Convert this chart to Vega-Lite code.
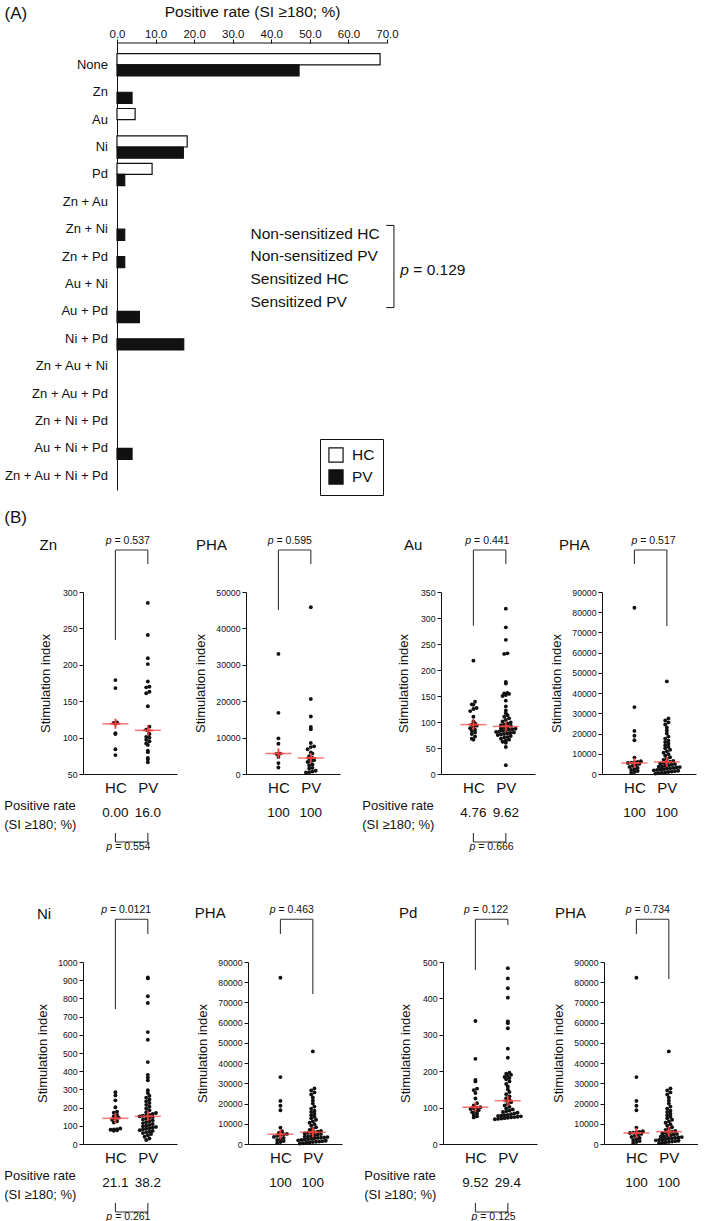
{
"$schema": "https://vega.github.io/schema/vega-lite/v6.json",
"background": "white",
"padding": {"left": 3, "top": 4, "right": 0, "bottom": 0},
"config": {
  "font": "Liberation Sans",
  "view": {"stroke": null},
  "axis": {"grid": false, "labelOverlap": false, "domainColor": "#111", "tickColor": "#111", "labelColor": "#111", "titleColor": "#111", "titleFontWeight": "normal", "labelFont": "Liberation Sans", "titleFont": "Liberation Sans"},
  "text": {"color": "#111", "font": "Liberation Sans"},
  "title": {"font": "Liberation Sans", "fontWeight": "normal", "color": "#111"},
  "legend": {"labelFont": "Liberation Sans", "labelColor": "#111"}
},
"datasets": {
"rates": [
{"combo":"None","grp":"HC","rate":68.2},{"combo":"None","grp":"PV","rate":47.2},
{"combo":"Zn","grp":"HC","rate":0},{"combo":"Zn","grp":"PV","rate":3.9},
{"combo":"Au","grp":"HC","rate":4.7},{"combo":"Au","grp":"PV","rate":0},
{"combo":"Ni","grp":"HC","rate":18.2},{"combo":"Ni","grp":"PV","rate":17.2},
{"combo":"Pd","grp":"HC","rate":9.1},{"combo":"Pd","grp":"PV","rate":2.0},
{"combo":"Zn + Au","grp":"HC","rate":0},{"combo":"Zn + Au","grp":"PV","rate":0},
{"combo":"Zn + Ni","grp":"HC","rate":0},{"combo":"Zn + Ni","grp":"PV","rate":2.0},
{"combo":"Zn + Pd","grp":"HC","rate":0},{"combo":"Zn + Pd","grp":"PV","rate":2.0},
{"combo":"Au + Ni","grp":"HC","rate":0},{"combo":"Au + Ni","grp":"PV","rate":0},
{"combo":"Au + Pd","grp":"HC","rate":0},{"combo":"Au + Pd","grp":"PV","rate":5.8},
{"combo":"Ni + Pd","grp":"HC","rate":0},{"combo":"Ni + Pd","grp":"PV","rate":17.3},
{"combo":"Zn + Au + Ni","grp":"HC","rate":0},{"combo":"Zn + Au + Ni","grp":"PV","rate":0},
{"combo":"Zn + Au + Pd","grp":"HC","rate":0},{"combo":"Zn + Au + Pd","grp":"PV","rate":0},
{"combo":"Zn + Ni + Pd","grp":"HC","rate":0},{"combo":"Zn + Ni + Pd","grp":"PV","rate":0},
{"combo":"Au + Ni + Pd","grp":"HC","rate":0},{"combo":"Au + Ni + Pd","grp":"PV","rate":3.9},
{"combo":"Zn + Au + Ni + Pd","grp":"HC","rate":0},{"combo":"Zn + Au + Ni + Pd","grp":"PV","rate":0}
],
"si": [
{"p":"zn","g":"HC","v":179},{"p":"zn","g":"HC","v":168},{"p":"zn","g":"HC","v":121},{"p":"zn","g":"HC","v":120},{"p":"zn","g":"HC","v":119},{"p":"zn","g":"HC","v":106},{"p":"zn","g":"HC","v":105},{"p":"zn","g":"HC","v":84},{"p":"zn","g":"HC","v":76},
{"p":"zn","g":"PV","v":285},{"p":"zn","g":"PV","v":241},{"p":"zn","g":"PV","v":209},{"p":"zn","g":"PV","v":201},{"p":"zn","g":"PV","v":177},{"p":"zn","g":"PV","v":170},{"p":"zn","g":"PV","v":169},{"p":"zn","g":"PV","v":163},{"p":"zn","g":"PV","v":161},{"p":"zn","g":"PV","v":143},{"p":"zn","g":"PV","v":115},{"p":"zn","g":"PV","v":111},{"p":"zn","g":"PV","v":110},{"p":"zn","g":"PV","v":105},{"p":"zn","g":"PV","v":101},{"p":"zn","g":"PV","v":100},{"p":"zn","g":"PV","v":97},{"p":"zn","g":"PV","v":95},{"p":"zn","g":"PV","v":92},{"p":"zn","g":"PV","v":90},{"p":"zn","g":"PV","v":82},{"p":"zn","g":"PV","v":80},{"p":"zn","g":"PV","v":72},{"p":"zn","g":"PV","v":70},{"p":"zn","g":"PV","v":66},
{"p":"phz","g":"HC","v":33000},{"p":"phz","g":"HC","v":16800},{"p":"phz","g":"HC","v":9800},{"p":"phz","g":"HC","v":8300},{"p":"phz","g":"HC","v":5600},{"p":"phz","g":"HC","v":5500},{"p":"phz","g":"HC","v":4700},{"p":"phz","g":"HC","v":3000},{"p":"phz","g":"HC","v":1800},
{"p":"phz","g":"PV","v":45800},{"p":"phz","g":"PV","v":20600},{"p":"phz","g":"PV","v":15800},{"p":"phz","g":"PV","v":12900},{"p":"phz","g":"PV","v":12300},{"p":"phz","g":"PV","v":8500},{"p":"phz","g":"PV","v":7600},{"p":"phz","g":"PV","v":7400},{"p":"phz","g":"PV","v":6800},{"p":"phz","g":"PV","v":5900},{"p":"phz","g":"PV","v":5600},{"p":"phz","g":"PV","v":4900},{"p":"phz","g":"PV","v":4400},{"p":"phz","g":"PV","v":4200},{"p":"phz","g":"PV","v":3800},{"p":"phz","g":"PV","v":3500},{"p":"phz","g":"PV","v":3300},{"p":"phz","g":"PV","v":2600},{"p":"phz","g":"PV","v":2400},{"p":"phz","g":"PV","v":1700},{"p":"phz","g":"PV","v":1500},{"p":"phz","g":"PV","v":900},{"p":"phz","g":"PV","v":700},{"p":"phz","g":"PV","v":500},{"p":"phz","g":"PV","v":400},
{"p":"au","g":"HC","v":218},{"p":"au","g":"HC","v":139},{"p":"au","g":"HC","v":134},{"p":"au","g":"HC","v":133},{"p":"au","g":"HC","v":127},{"p":"au","g":"HC","v":125},{"p":"au","g":"HC","v":121},{"p":"au","g":"HC","v":110},{"p":"au","g":"HC","v":101},{"p":"au","g":"HC","v":97},{"p":"au","g":"HC","v":95},{"p":"au","g":"HC","v":93},{"p":"au","g":"HC","v":91},{"p":"au","g":"HC","v":88},{"p":"au","g":"HC","v":85},{"p":"au","g":"HC","v":83},{"p":"au","g":"HC","v":80},{"p":"au","g":"HC","v":77},{"p":"au","g":"HC","v":72},{"p":"au","g":"HC","v":68},{"p":"au","g":"HC","v":66},
{"p":"au","g":"PV","v":318},{"p":"au","g":"PV","v":282},{"p":"au","g":"PV","v":258},{"p":"au","g":"PV","v":232},{"p":"au","g":"PV","v":231},{"p":"au","g":"PV","v":177},{"p":"au","g":"PV","v":174},{"p":"au","g":"PV","v":156},{"p":"au","g":"PV","v":155},{"p":"au","g":"PV","v":154},{"p":"au","g":"PV","v":152},{"p":"au","g":"PV","v":150},{"p":"au","g":"PV","v":141},{"p":"au","g":"PV","v":130},{"p":"au","g":"PV","v":122},{"p":"au","g":"PV","v":117},{"p":"au","g":"PV","v":113},{"p":"au","g":"PV","v":110},{"p":"au","g":"PV","v":107},{"p":"au","g":"PV","v":104},{"p":"au","g":"PV","v":101},{"p":"au","g":"PV","v":99},{"p":"au","g":"PV","v":97},{"p":"au","g":"PV","v":95},{"p":"au","g":"PV","v":94},{"p":"au","g":"PV","v":93},{"p":"au","g":"PV","v":90},{"p":"au","g":"PV","v":89},{"p":"au","g":"PV","v":88},{"p":"au","g":"PV","v":87},{"p":"au","g":"PV","v":86},{"p":"au","g":"PV","v":85},{"p":"au","g":"PV","v":84},{"p":"au","g":"PV","v":83},{"p":"au","g":"PV","v":82},{"p":"au","g":"PV","v":81},{"p":"au","g":"PV","v":80},{"p":"au","g":"PV","v":79},{"p":"au","g":"PV","v":78},{"p":"au","g":"PV","v":77},{"p":"au","g":"PV","v":76},{"p":"au","g":"PV","v":75},{"p":"au","g":"PV","v":73},{"p":"au","g":"PV","v":71},{"p":"au","g":"PV","v":70},{"p":"au","g":"PV","v":68},{"p":"au","g":"PV","v":66},{"p":"au","g":"PV","v":64},{"p":"au","g":"PV","v":62},{"p":"au","g":"PV","v":60},{"p":"au","g":"PV","v":52},{"p":"au","g":"PV","v":17},
{"p":"pha","g":"HC","v":82200},{"p":"pha","g":"HC","v":33100},{"p":"pha","g":"HC","v":21300},{"p":"pha","g":"HC","v":18900},{"p":"pha","g":"HC","v":16700},{"p":"pha","g":"HC","v":8100},{"p":"pha","g":"HC","v":6300},{"p":"pha","g":"HC","v":6000},{"p":"pha","g":"HC","v":5800},{"p":"pha","g":"HC","v":5600},{"p":"pha","g":"HC","v":5450},{"p":"pha","g":"HC","v":5000},{"p":"pha","g":"HC","v":4500},{"p":"pha","g":"HC","v":4000},{"p":"pha","g":"HC","v":3500},{"p":"pha","g":"HC","v":3000},{"p":"pha","g":"HC","v":2500},{"p":"pha","g":"HC","v":2000},{"p":"pha","g":"HC","v":1500},{"p":"pha","g":"HC","v":1000},{"p":"pha","g":"HC","v":500},
{"p":"pha","g":"PV","v":45800},{"p":"pha","g":"PV","v":27500},{"p":"pha","g":"PV","v":26500},{"p":"pha","g":"PV","v":25500},{"p":"pha","g":"PV","v":24500},{"p":"pha","g":"PV","v":23000},{"p":"pha","g":"PV","v":21500},{"p":"pha","g":"PV","v":20000},{"p":"pha","g":"PV","v":18500},{"p":"pha","g":"PV","v":17500},{"p":"pha","g":"PV","v":16500},{"p":"pha","g":"PV","v":15800},{"p":"pha","g":"PV","v":15000},{"p":"pha","g":"PV","v":14200},{"p":"pha","g":"PV","v":13500},{"p":"pha","g":"PV","v":12700},{"p":"pha","g":"PV","v":12000},{"p":"pha","g":"PV","v":11200},{"p":"pha","g":"PV","v":10500},{"p":"pha","g":"PV","v":9800},{"p":"pha","g":"PV","v":9000},{"p":"pha","g":"PV","v":8300},{"p":"pha","g":"PV","v":7600},{"p":"pha","g":"PV","v":7000},{"p":"pha","g":"PV","v":6500},{"p":"pha","g":"PV","v":6100},{"p":"pha","g":"PV","v":5800},{"p":"pha","g":"PV","v":5500},{"p":"pha","g":"PV","v":5200},{"p":"pha","g":"PV","v":4900},{"p":"pha","g":"PV","v":4600},{"p":"pha","g":"PV","v":4300},{"p":"pha","g":"PV","v":4000},{"p":"pha","g":"PV","v":3800},{"p":"pha","g":"PV","v":3600},{"p":"pha","g":"PV","v":3400},{"p":"pha","g":"PV","v":3200},{"p":"pha","g":"PV","v":3000},{"p":"pha","g":"PV","v":2800},{"p":"pha","g":"PV","v":2600},{"p":"pha","g":"PV","v":2400},{"p":"pha","g":"PV","v":2200},{"p":"pha","g":"PV","v":2000},{"p":"pha","g":"PV","v":1800},{"p":"pha","g":"PV","v":1600},{"p":"pha","g":"PV","v":1400},{"p":"pha","g":"PV","v":1200},{"p":"pha","g":"PV","v":1000},{"p":"pha","g":"PV","v":800},{"p":"pha","g":"PV","v":600},{"p":"pha","g":"PV","v":400},{"p":"pha","g":"PV","v":200},
{"p":"ni","g":"HC","v":285},{"p":"ni","g":"HC","v":267},{"p":"ni","g":"HC","v":240},{"p":"ni","g":"HC","v":202},{"p":"ni","g":"HC","v":178},{"p":"ni","g":"HC","v":172},{"p":"ni","g":"HC","v":160},{"p":"ni","g":"HC","v":152},{"p":"ni","g":"HC","v":145},{"p":"ni","g":"HC","v":141},{"p":"ni","g":"HC","v":133},{"p":"ni","g":"HC","v":125},{"p":"ni","g":"HC","v":118},{"p":"ni","g":"HC","v":85},{"p":"ni","g":"HC","v":82},{"p":"ni","g":"HC","v":80},{"p":"ni","g":"HC","v":78},{"p":"ni","g":"HC","v":75},{"p":"ni","g":"HC","v":73},
{"p":"ni","g":"PV","v":915},{"p":"ni","g":"PV","v":910},{"p":"ni","g":"PV","v":812},{"p":"ni","g":"PV","v":775},{"p":"ni","g":"PV","v":615},{"p":"ni","g":"PV","v":573},{"p":"ni","g":"PV","v":450},{"p":"ni","g":"PV","v":380},{"p":"ni","g":"PV","v":365},{"p":"ni","g":"PV","v":350},{"p":"ni","g":"PV","v":295},{"p":"ni","g":"PV","v":280},{"p":"ni","g":"PV","v":265},{"p":"ni","g":"PV","v":255},{"p":"ni","g":"PV","v":245},{"p":"ni","g":"PV","v":235},{"p":"ni","g":"PV","v":225},{"p":"ni","g":"PV","v":215},{"p":"ni","g":"PV","v":205},{"p":"ni","g":"PV","v":195},{"p":"ni","g":"PV","v":185},{"p":"ni","g":"PV","v":175},{"p":"ni","g":"PV","v":170},{"p":"ni","g":"PV","v":165},{"p":"ni","g":"PV","v":160},{"p":"ni","g":"PV","v":157},{"p":"ni","g":"PV","v":155},{"p":"ni","g":"PV","v":152},{"p":"ni","g":"PV","v":148},{"p":"ni","g":"PV","v":145},{"p":"ni","g":"PV","v":140},{"p":"ni","g":"PV","v":135},{"p":"ni","g":"PV","v":130},{"p":"ni","g":"PV","v":125},{"p":"ni","g":"PV","v":120},{"p":"ni","g":"PV","v":115},{"p":"ni","g":"PV","v":110},{"p":"ni","g":"PV","v":105},{"p":"ni","g":"PV","v":100},{"p":"ni","g":"PV","v":97},{"p":"ni","g":"PV","v":94},{"p":"ni","g":"PV","v":90},{"p":"ni","g":"PV","v":87},{"p":"ni","g":"PV","v":84},{"p":"ni","g":"PV","v":80},{"p":"ni","g":"PV","v":76},{"p":"ni","g":"PV","v":72},{"p":"ni","g":"PV","v":68},{"p":"ni","g":"PV","v":64},{"p":"ni","g":"PV","v":60},{"p":"ni","g":"PV","v":55},{"p":"ni","g":"PV","v":48},{"p":"ni","g":"PV","v":40},{"p":"ni","g":"PV","v":30},{"p":"ni","g":"PV","v":22},
{"p":"phn","g":"HC","v":82200},{"p":"phn","g":"HC","v":33100},{"p":"phn","g":"HC","v":21300},{"p":"phn","g":"HC","v":18900},{"p":"phn","g":"HC","v":16700},{"p":"phn","g":"HC","v":8100},{"p":"phn","g":"HC","v":6300},{"p":"phn","g":"HC","v":5500},{"p":"phn","g":"HC","v":5000},{"p":"phn","g":"HC","v":4800},{"p":"phn","g":"HC","v":4500},{"p":"phn","g":"HC","v":4000},{"p":"phn","g":"HC","v":3500},{"p":"phn","g":"HC","v":3000},{"p":"phn","g":"HC","v":2500},{"p":"phn","g":"HC","v":2000},{"p":"phn","g":"HC","v":1500},{"p":"phn","g":"HC","v":1000},{"p":"phn","g":"HC","v":500},
{"p":"phn","g":"PV","v":45800},{"p":"phn","g":"PV","v":27500},{"p":"phn","g":"PV","v":26500},{"p":"phn","g":"PV","v":25500},{"p":"phn","g":"PV","v":24500},{"p":"phn","g":"PV","v":23000},{"p":"phn","g":"PV","v":21500},{"p":"phn","g":"PV","v":20000},{"p":"phn","g":"PV","v":18500},{"p":"phn","g":"PV","v":17500},{"p":"phn","g":"PV","v":16500},{"p":"phn","g":"PV","v":15800},{"p":"phn","g":"PV","v":15000},{"p":"phn","g":"PV","v":14200},{"p":"phn","g":"PV","v":13500},{"p":"phn","g":"PV","v":12700},{"p":"phn","g":"PV","v":12000},{"p":"phn","g":"PV","v":11200},{"p":"phn","g":"PV","v":10500},{"p":"phn","g":"PV","v":9800},{"p":"phn","g":"PV","v":9000},{"p":"phn","g":"PV","v":8300},{"p":"phn","g":"PV","v":7600},{"p":"phn","g":"PV","v":7000},{"p":"phn","g":"PV","v":6500},{"p":"phn","g":"PV","v":6100},{"p":"phn","g":"PV","v":5900},{"p":"phn","g":"PV","v":5800},{"p":"phn","g":"PV","v":5500},{"p":"phn","g":"PV","v":5200},{"p":"phn","g":"PV","v":4900},{"p":"phn","g":"PV","v":4600},{"p":"phn","g":"PV","v":4300},{"p":"phn","g":"PV","v":4000},{"p":"phn","g":"PV","v":3800},{"p":"phn","g":"PV","v":3600},{"p":"phn","g":"PV","v":3400},{"p":"phn","g":"PV","v":3200},{"p":"phn","g":"PV","v":3100},{"p":"phn","g":"PV","v":3000},{"p":"phn","g":"PV","v":2800},{"p":"phn","g":"PV","v":2600},{"p":"phn","g":"PV","v":2400},{"p":"phn","g":"PV","v":2200},{"p":"phn","g":"PV","v":2000},{"p":"phn","g":"PV","v":1800},{"p":"phn","g":"PV","v":1600},{"p":"phn","g":"PV","v":1400},{"p":"phn","g":"PV","v":1200},{"p":"phn","g":"PV","v":1100},{"p":"phn","g":"PV","v":1000},{"p":"phn","g":"PV","v":800},{"p":"phn","g":"PV","v":600},{"p":"phn","g":"PV","v":400},{"p":"phn","g":"PV","v":200},
{"p":"pd","g":"HC","v":338},{"p":"pd","g":"HC","v":234},{"p":"pd","g":"HC","v":176},{"p":"pd","g":"HC","v":172},{"p":"pd","g":"HC","v":152},{"p":"pd","g":"HC","v":148},{"p":"pd","g":"HC","v":140},{"p":"pd","g":"HC","v":125},{"p":"pd","g":"HC","v":112},{"p":"pd","g":"HC","v":106},{"p":"pd","g":"HC","v":101},{"p":"pd","g":"HC","v":100},{"p":"pd","g":"HC","v":98},{"p":"pd","g":"HC","v":96},{"p":"pd","g":"HC","v":93},{"p":"pd","g":"HC","v":90},{"p":"pd","g":"HC","v":87},{"p":"pd","g":"HC","v":84},{"p":"pd","g":"HC","v":80},{"p":"pd","g":"HC","v":76},{"p":"pd","g":"HC","v":73},
{"p":"pd","g":"PV","v":483},{"p":"pd","g":"PV","v":455},{"p":"pd","g":"PV","v":428},{"p":"pd","g":"PV","v":402},{"p":"pd","g":"PV","v":337},{"p":"pd","g":"PV","v":332},{"p":"pd","g":"PV","v":318},{"p":"pd","g":"PV","v":262},{"p":"pd","g":"PV","v":237},{"p":"pd","g":"PV","v":196},{"p":"pd","g":"PV","v":193},{"p":"pd","g":"PV","v":190},{"p":"pd","g":"PV","v":187},{"p":"pd","g":"PV","v":184},{"p":"pd","g":"PV","v":181},{"p":"pd","g":"PV","v":178},{"p":"pd","g":"PV","v":172},{"p":"pd","g":"PV","v":165},{"p":"pd","g":"PV","v":158},{"p":"pd","g":"PV","v":150},{"p":"pd","g":"PV","v":143},{"p":"pd","g":"PV","v":137},{"p":"pd","g":"PV","v":131},{"p":"pd","g":"PV","v":126},{"p":"pd","g":"PV","v":122},{"p":"pd","g":"PV","v":119},{"p":"pd","g":"PV","v":115},{"p":"pd","g":"PV","v":110},{"p":"pd","g":"PV","v":106},{"p":"pd","g":"PV","v":102},{"p":"pd","g":"PV","v":98},{"p":"pd","g":"PV","v":95},{"p":"pd","g":"PV","v":92},{"p":"pd","g":"PV","v":90},{"p":"pd","g":"PV","v":88},{"p":"pd","g":"PV","v":86},{"p":"pd","g":"PV","v":84},{"p":"pd","g":"PV","v":82},{"p":"pd","g":"PV","v":80},{"p":"pd","g":"PV","v":79},{"p":"pd","g":"PV","v":78},{"p":"pd","g":"PV","v":77},{"p":"pd","g":"PV","v":76},{"p":"pd","g":"PV","v":75},{"p":"pd","g":"PV","v":74},{"p":"pd","g":"PV","v":73},{"p":"pd","g":"PV","v":72},{"p":"pd","g":"PV","v":71},{"p":"pd","g":"PV","v":70},{"p":"pd","g":"PV","v":69},{"p":"pd","g":"PV","v":68},
{"p":"php","g":"HC","v":82200},{"p":"php","g":"HC","v":33100},{"p":"php","g":"HC","v":21300},{"p":"php","g":"HC","v":18900},{"p":"php","g":"HC","v":16700},{"p":"php","g":"HC","v":8100},{"p":"php","g":"HC","v":6300},{"p":"php","g":"HC","v":6000},{"p":"php","g":"HC","v":5800},{"p":"php","g":"HC","v":5600},{"p":"php","g":"HC","v":5450},{"p":"php","g":"HC","v":5000},{"p":"php","g":"HC","v":4500},{"p":"php","g":"HC","v":4000},{"p":"php","g":"HC","v":3500},{"p":"php","g":"HC","v":3000},{"p":"php","g":"HC","v":2500},{"p":"php","g":"HC","v":2000},{"p":"php","g":"HC","v":1500},{"p":"php","g":"HC","v":1000},{"p":"php","g":"HC","v":500},
{"p":"php","g":"PV","v":45800},{"p":"php","g":"PV","v":27500},{"p":"php","g":"PV","v":26500},{"p":"php","g":"PV","v":25500},{"p":"php","g":"PV","v":24500},{"p":"php","g":"PV","v":23000},{"p":"php","g":"PV","v":21500},{"p":"php","g":"PV","v":20000},{"p":"php","g":"PV","v":18500},{"p":"php","g":"PV","v":17500},{"p":"php","g":"PV","v":16500},{"p":"php","g":"PV","v":15800},{"p":"php","g":"PV","v":15000},{"p":"php","g":"PV","v":14200},{"p":"php","g":"PV","v":13500},{"p":"php","g":"PV","v":12700},{"p":"php","g":"PV","v":12000},{"p":"php","g":"PV","v":11200},{"p":"php","g":"PV","v":10500},{"p":"php","g":"PV","v":9800},{"p":"php","g":"PV","v":9000},{"p":"php","g":"PV","v":8300},{"p":"php","g":"PV","v":7600},{"p":"php","g":"PV","v":7000},{"p":"php","g":"PV","v":6500},{"p":"php","g":"PV","v":6100},{"p":"php","g":"PV","v":5800},{"p":"php","g":"PV","v":5500},{"p":"php","g":"PV","v":5200},{"p":"php","g":"PV","v":4900},{"p":"php","g":"PV","v":4600},{"p":"php","g":"PV","v":4300},{"p":"php","g":"PV","v":4000},{"p":"php","g":"PV","v":3800},{"p":"php","g":"PV","v":3600},{"p":"php","g":"PV","v":3400},{"p":"php","g":"PV","v":3200},{"p":"php","g":"PV","v":3000},{"p":"php","g":"PV","v":2800},{"p":"php","g":"PV","v":2600},{"p":"php","g":"PV","v":2400},{"p":"php","g":"PV","v":2200},{"p":"php","g":"PV","v":2000},{"p":"php","g":"PV","v":1800},{"p":"php","g":"PV","v":1600},{"p":"php","g":"PV","v":1400},{"p":"php","g":"PV","v":1200},{"p":"php","g":"PV","v":1000},{"p":"php","g":"PV","v":800},{"p":"php","g":"PV","v":600},{"p":"php","g":"PV","v":400}
]
},
"concat": [
{
 "width": 304, "height": 447,
 "layer": [
  {
   "data": {"name": "rates"},
   "transform": [{"filter": "datum.rate > 0"}],
   "mark": {"type": "bar", "stroke": "#111", "strokeWidth": 1.2},
   "encoding": {
    "y": {"field": "combo", "type": "nominal", "sort": null,
      "scale": {"domain": ["None","Zn","Au","Ni","Pd","Zn + Au","Zn + Ni","Zn + Pd","Au + Ni","Au + Pd","Ni + Pd","Zn + Au + Ni","Zn + Au + Pd","Zn + Ni + Pd","Au + Ni + Pd","Zn + Au + Ni + Pd"], "paddingInner": 0.187, "paddingOuter": 0.252, "align": 0.775},
      "axis": {"title": "(A)", "offset": -34, "titleAngle": 0, "titleX": -113, "titleY": -30, "titleAlign": "left", "titleBaseline": "middle", "titleFontSize": 17, "labelFontSize": 13, "ticks": false, "labelPadding": 9.5}},
    "yOffset": {"field": "grp", "type": "nominal", "scale": {"domain": ["HC","PV"], "paddingInner": 0, "paddingOuter": 0}},
    "x": {"field": "rate", "type": "quantitative", "scale": {"domain": [-8.815, 70], "nice": false, "zero": false},
      "axis": {"orient": "top", "domain": false, "title": "Positive rate (SI ≥180; %)", "titleX": 169, "values": [0,10,20,30,40,50,60,70], "tickCount": 20, "format": ".1f", "labelFontSize": 11.5, "titleFontSize": 15.5, "tickSize": 4, "labelPadding": 0, "titlePadding": 9, "labelFlush": false}},
    "fill": {"field": "grp", "type": "nominal", "scale": {"domain": ["HC","PV"], "range": ["white","#111"]},
      "legend": {"title": null, "orient": "none", "legendX": 237, "legendY": 396, "strokeColor": "#111", "padding": 8, "symbolType": "square", "symbolSize": 200, "symbolStrokeColor": "#111", "symbolStrokeWidth": 1.2, "labelFontSize": 15.5, "rowPadding": 2, "labelOffset": 8}}
   }
  },
  {
   "data": {"values": [{"combo": "None", "x": 0, "x2": 70}]},
   "mark": {"type": "rule", "color": "#111", "strokeWidth": 1},
   "encoding": {"y": {"field": "combo", "type": "nominal", "bandPosition": -0.48}, "x": {"field": "x", "type": "quantitative"}, "x2": {"field": "x2"}}
  },
  {
   "data": {"values": [{"combo": "Zn + Ni", "x": 34.6, "t": "Non-sensitized HC|Non-sensitized PV|Sensitized HC|Sensitized PV"}]},
   "mark": {"type": "text", "align": "left", "baseline": "middle", "fontSize": 15.5, "lineBreak": "|", "lineHeight": 22.8},
   "encoding": {"y": {"field": "combo", "type": "nominal", "bandPosition": 0.7}, "x": {"field": "x", "type": "quantitative"}, "text": {"field": "t"}}
  },
  {
   "data": {"values": [{"x": 71.8, "x2": 71.8, "c1": "Zn + Ni", "c2": "Au + Pd"}, {"x": 69.8, "x2": 71.8, "c1": "Zn + Ni", "c2": "Zn + Ni"}, {"x": 69.8, "x2": 71.8, "c1": "Au + Pd", "c2": "Au + Pd"}]},
   "mark": {"type": "rule", "color": "#111", "strokeWidth": 1},
   "encoding": {"y": {"field": "c1", "type": "nominal", "bandPosition": 0.33}, "y2": {"field": "c2", "bandPosition": 0.33}, "x": {"field": "x", "type": "quantitative"}, "x2": {"field": "x2"}}
  },
  {
   "data": {"values": [{"combo": "Zn + Pd", "x": 73.45, "t": "= 0.129"}]},
   "layer": [
    {"mark": {"type": "text", "align": "left", "baseline": "middle", "fontSize": 15.5, "fontStyle": "italic", "dy": 2}, "encoding": {"y": {"field": "combo", "type": "nominal", "bandPosition": 1}, "x": {"field": "x", "type": "quantitative"}, "text": {"value": "p"}}},
    {"mark": {"type": "text", "align": "left", "baseline": "middle", "fontSize": 15.5, "dx": 13, "dy": 2}, "encoding": {"y": {"field": "combo", "type": "nominal", "bandPosition": 1}, "x": {"field": "x", "type": "quantitative"}, "text": {"field": "t"}}}
   ]
  }
 ]
},
{
 "title": {"text": "(B)", "anchor": "start", "frame": "bounds", "fontSize": 17, "offset": 9},
 "spacing": 52,
 "vconcat": [
  {"spacing": 22, "hconcat": [
   {"spacing": 17, "hconcat": [
    {"width": 94, "height": 182, "layer": [
     {"data": {"name": "si"}, "transform": [{"filter": "datum.p === 'zn'"}, {"bin": {"step": 4.8}, "field": "v", "as": "vb"}, {"window": [{"op": "row_number", "as": "r"}], "groupby": ["g", "vb"], "sort": [{"field": "v"}]}, {"joinaggregate": [{"op": "count", "as": "n"}], "groupby": ["g", "vb"]}, {"calculate": "(datum.g === 'HC' ? 1 : 2) + (datum.r - (datum.n + 1) / 2) * 0.1", "as": "xp"}],
      "mark": {"type": "circle", "size": 15, "color": "#111", "opacity": 1},
      "encoding": {"x": {"field": "xp", "type": "quantitative", "scale": {"domain": [0, 2.9], "nice": false, "zero": false}, "axis": {"values": [1, 2], "tickCount": 20, "labelExpr": "datum.value === 1 ? 'HC' : 'PV'", "ticks": false, "labelFontSize": 15, "labelPadding": 6, "title": null, "labelFlush": false}},
                   "y": {"field": "v", "type": "quantitative", "scale": {"domain": [50, 300], "nice": false, "zero": false}, "axis": {"title": "Stimulation index", "values": [50,100,150,200,250,300], "tickCount": 20, "format": "d", "labelFontSize": 8.7, "labelFlush": false, "tickSize": 4, "labelPadding": 2, "titleFontSize": 13, "titlePadding": 10}}}},
     {"data": {"name": "si"}, "transform": [{"filter": "datum.p === 'zn'"}, {"aggregate": [{"op": "median", "field": "v", "as": "m"}], "groupby": ["g"]}, {"calculate": "datum.g === 'HC' ? 1 : 2", "as": "gx"}],
      "mark": {"type": "tick", "orient": "horizontal", "color": "#f0403c", "size": 26, "thickness": 1.5},
      "encoding": {"x": {"field": "gx", "type": "quantitative"}, "y": {"field": "m", "type": "quantitative"}}},
     {"data": {"name": "si"}, "transform": [{"filter": "datum.p === 'zn'"}, {"aggregate": [{"op": "mean", "field": "v", "as": "m"}], "groupby": ["g"]}, {"calculate": "datum.g === 'HC' ? 1 : 2", "as": "gx"}],
      "mark": {"type": "point", "shape": "M-1,0L1,0M0,-1L0,1", "filled": false, "color": "#f0403c", "strokeWidth": 1.8, "size": 100, "opacity": 1},
      "encoding": {"x": {"field": "gx", "type": "quantitative"}, "y": {"field": "m", "type": "quantitative"}}},
     {"data": {"values": [
       {"k":"ttl","x":-1.34,"y":364.6,"t":"Zn"},
       {"k":"p","x":0.7,"y":370,"t":"= 0.537"},
       {"k":"p","x":0.72,"y":-50.3,"t":"= 0.554"},
       {"k":"val","x":1,"y":-3.6,"t":"0.00"},
       {"k":"val","x":2,"y":-3.6,"t":"16.0"},
       {"k":"lab","x":-2.43,"y":6,"t":"Positive rate"},
       {"k":"lab","x":-2.43,"y":-20.1,"t":"(SI ≥180; %)"},
       {"k":"br","x":1,"y":234,"x2":1,"y2":357.7},
       {"k":"br","x":1,"y":357.7,"x2":2,"y2":357.7},
       {"k":"br","x":2,"y":357.7,"x2":2,"y2":338.5},
       {"k":"br","x":1,"y":-31,"x2":1,"y2":-43.4},
       {"k":"br","x":1,"y":-43.4,"x2":2,"y2":-43.4},
       {"k":"br","x":2,"y":-43.4,"x2":2,"y2":-31}]},
      "layer": [
       {"transform": [{"filter": "datum.k === 'br'"}], "mark": {"type": "rule", "color": "#333", "strokeWidth": 1.1}, "encoding": {"x": {"field": "x", "type": "quantitative"}, "x2": {"field": "x2"}, "y": {"field": "y", "type": "quantitative"}, "y2": {"field": "y2"}}},
       {"transform": [{"filter": "datum.k === 'ttl'"}], "mark": {"type": "text", "align": "left", "baseline": "middle", "fontSize": 15}, "encoding": {"x": {"field": "x", "type": "quantitative"}, "y": {"field": "y", "type": "quantitative"}, "text": {"field": "t"}}},
       {"transform": [{"filter": "datum.k === 'p'"}], "mark": {"type": "text", "align": "left", "baseline": "middle", "fontSize": 10.5, "fontStyle": "italic"}, "encoding": {"x": {"field": "x", "type": "quantitative"}, "y": {"field": "y", "type": "quantitative"}, "text": {"value": "p"}}},
       {"transform": [{"filter": "datum.k === 'p'"}], "mark": {"type": "text", "align": "left", "baseline": "middle", "fontSize": 10.5, "dx": 8.8}, "encoding": {"x": {"field": "x", "type": "quantitative"}, "y": {"field": "y", "type": "quantitative"}, "text": {"field": "t"}}},
       {"transform": [{"filter": "datum.k === 'val'"}], "mark": {"type": "text", "align": "center", "baseline": "middle", "fontSize": 13.5}, "encoding": {"x": {"field": "x", "type": "quantitative"}, "y": {"field": "y", "type": "quantitative"}, "text": {"field": "t"}}},
       {"transform": [{"filter": "datum.k === 'lab'"}], "mark": {"type": "text", "align": "left", "baseline": "middle", "fontSize": 13}, "encoding": {"x": {"field": "x", "type": "quantitative"}, "y": {"field": "y", "type": "quantitative"}, "text": {"field": "t"}}}
      ]}
    ]},
    {"width": 94, "height": 182, "layer": [
     {"data": {"name": "si"}, "transform": [{"filter": "datum.p === 'phz'"}, {"bin": {"step": 960}, "field": "v", "as": "vb"}, {"window": [{"op": "row_number", "as": "r"}], "groupby": ["g", "vb"], "sort": [{"field": "v"}]}, {"joinaggregate": [{"op": "count", "as": "n"}], "groupby": ["g", "vb"]}, {"calculate": "(datum.g === 'HC' ? 1 : 2) + (datum.r - (datum.n + 1) / 2) * 0.1", "as": "xp"}],
      "mark": {"type": "circle", "size": 15, "color": "#111", "opacity": 1},
      "encoding": {"x": {"field": "xp", "type": "quantitative", "scale": {"domain": [0, 2.9], "nice": false, "zero": false}, "axis": {"values": [1, 2], "tickCount": 20, "labelExpr": "datum.value === 1 ? 'HC' : 'PV'", "ticks": false, "labelFontSize": 15, "labelPadding": 6, "title": null, "labelFlush": false}},
                   "y": {"field": "v", "type": "quantitative", "scale": {"domain": [0, 50000], "nice": false, "zero": false}, "axis": {"title": "Stimulation index", "values": [0,10000,20000,30000,40000,50000], "tickCount": 20, "format": "d", "labelFontSize": 8.7, "labelFlush": false, "tickSize": 4, "labelPadding": 2, "titleFontSize": 13, "titlePadding": 8}}}},
     {"data": {"name": "si"}, "transform": [{"filter": "datum.p === 'phz'"}, {"aggregate": [{"op": "median", "field": "v", "as": "m"}], "groupby": ["g"]}, {"calculate": "datum.g === 'HC' ? 1 : 2", "as": "gx"}],
      "mark": {"type": "tick", "orient": "horizontal", "color": "#f0403c", "size": 26, "thickness": 1.5},
      "encoding": {"x": {"field": "gx", "type": "quantitative"}, "y": {"field": "m", "type": "quantitative"}}},
     {"data": {"name": "si"}, "transform": [{"filter": "datum.p === 'phz'"}, {"aggregate": [{"op": "mean", "field": "v", "as": "m"}], "groupby": ["g"]}, {"calculate": "datum.g === 'HC' ? 1 : 2", "as": "gx"}],
      "mark": {"type": "point", "shape": "M-1,0L1,0M0,-1L0,1", "filled": false, "color": "#f0403c", "strokeWidth": 1.8, "size": 100, "opacity": 1},
      "encoding": {"x": {"field": "gx", "type": "quantitative"}, "y": {"field": "m", "type": "quantitative"}}},
     {"data": {"values": [
       {"k":"ttl","x":-1.54,"y":62910,"t":"PHA"},
       {"k":"p","x":0.67,"y":64010,"t":"= 0.595"},
       {"k":"val","x":1,"y":-10710,"t":"100"},
       {"k":"val","x":2,"y":-10710,"t":"100"},
       {"k":"br","x":1,"y":45050,"x2":1,"y2":61540},
       {"k":"br","x":1,"y":61540,"x2":2,"y2":61540},
       {"k":"br","x":2,"y":61540,"x2":2,"y2":57690}]},
      "layer": [
       {"transform": [{"filter": "datum.k === 'br'"}], "mark": {"type": "rule", "color": "#333", "strokeWidth": 1.1}, "encoding": {"x": {"field": "x", "type": "quantitative"}, "x2": {"field": "x2"}, "y": {"field": "y", "type": "quantitative"}, "y2": {"field": "y2"}}},
       {"transform": [{"filter": "datum.k === 'ttl'"}], "mark": {"type": "text", "align": "left", "baseline": "middle", "fontSize": 15}, "encoding": {"x": {"field": "x", "type": "quantitative"}, "y": {"field": "y", "type": "quantitative"}, "text": {"field": "t"}}},
       {"transform": [{"filter": "datum.k === 'p'"}], "mark": {"type": "text", "align": "left", "baseline": "middle", "fontSize": 10.5, "fontStyle": "italic"}, "encoding": {"x": {"field": "x", "type": "quantitative"}, "y": {"field": "y", "type": "quantitative"}, "text": {"value": "p"}}},
       {"transform": [{"filter": "datum.k === 'p'"}], "mark": {"type": "text", "align": "left", "baseline": "middle", "fontSize": 10.5, "dx": 8.8}, "encoding": {"x": {"field": "x", "type": "quantitative"}, "y": {"field": "y", "type": "quantitative"}, "text": {"field": "t"}}},
       {"transform": [{"filter": "datum.k === 'val'"}], "mark": {"type": "text", "align": "center", "baseline": "middle", "fontSize": 13.5}, "encoding": {"x": {"field": "x", "type": "quantitative"}, "y": {"field": "y", "type": "quantitative"}, "text": {"field": "t"}}}
      ]}
    ]}
   ]},
   {"spacing": 15, "hconcat": [
    {"width": 94, "height": 182, "layer": [
     {"data": {"name": "si"}, "transform": [{"filter": "datum.p === 'au'"}, {"bin": {"step": 6.7}, "field": "v", "as": "vb"}, {"window": [{"op": "row_number", "as": "r"}], "groupby": ["g", "vb"], "sort": [{"field": "v"}]}, {"joinaggregate": [{"op": "count", "as": "n"}], "groupby": ["g", "vb"]}, {"calculate": "(datum.g === 'HC' ? 1 : 2) + (datum.r - (datum.n + 1) / 2) * 0.1", "as": "xp"}],
      "mark": {"type": "circle", "size": 15, "color": "#111", "opacity": 1},
      "encoding": {"x": {"field": "xp", "type": "quantitative", "scale": {"domain": [0, 2.9], "nice": false, "zero": false}, "axis": {"values": [1, 2], "tickCount": 20, "labelExpr": "datum.value === 1 ? 'HC' : 'PV'", "ticks": false, "labelFontSize": 15, "labelPadding": 6, "title": null, "labelFlush": false}},
                   "y": {"field": "v", "type": "quantitative", "scale": {"domain": [0, 350], "nice": false, "zero": false}, "axis": {"title": "Stimulation index", "values": [0,50,100,150,200,250,300,350], "tickCount": 20, "format": "d", "labelFontSize": 8.7, "labelFlush": false, "tickSize": 4, "labelPadding": 2, "titleFontSize": 13, "titlePadding": 10}}}},
     {"data": {"name": "si"}, "transform": [{"filter": "datum.p === 'au'"}, {"aggregate": [{"op": "median", "field": "v", "as": "m"}], "groupby": ["g"]}, {"calculate": "datum.g === 'HC' ? 1 : 2", "as": "gx"}],
      "mark": {"type": "tick", "orient": "horizontal", "color": "#f0403c", "size": 26, "thickness": 1.5},
      "encoding": {"x": {"field": "gx", "type": "quantitative"}, "y": {"field": "m", "type": "quantitative"}}},
     {"data": {"name": "si"}, "transform": [{"filter": "datum.p === 'au'"}, {"aggregate": [{"op": "mean", "field": "v", "as": "m"}], "groupby": ["g"]}, {"calculate": "datum.g === 'HC' ? 1 : 2", "as": "gx"}],
      "mark": {"type": "point", "shape": "M-1,0L1,0M0,-1L0,1", "filled": false, "color": "#f0403c", "strokeWidth": 1.8, "size": 100, "opacity": 1},
      "encoding": {"x": {"field": "gx", "type": "quantitative"}, "y": {"field": "m", "type": "quantitative"}}},
     {"data": {"values": [
       {"k":"ttl","x":-1.14,"y":440.4,"t":"Au"},
       {"k":"p","x":0.75,"y":448,"t":"= 0.441"},
       {"k":"p","x":0.88,"y":-140.4,"t":"= 0.666"},
       {"k":"val","x":1,"y":-75,"t":"4.76"},
       {"k":"val","x":2,"y":-75,"t":"9.62"},
       {"k":"lab","x":-2.43,"y":-61.5,"t":"Positive rate"},
       {"k":"lab","x":-2.43,"y":-98.1,"t":"(SI ≥180; %)"},
       {"k":"br","x":1,"y":285.2,"x2":1,"y2":430.8},
       {"k":"br","x":1,"y":430.8,"x2":2,"y2":430.8},
       {"k":"br","x":2,"y":430.8,"x2":2,"y2":403.8},
       {"k":"br","x":1,"y":-113.5,"x2":1,"y2":-130.8},
       {"k":"br","x":1,"y":-130.8,"x2":2,"y2":-130.8},
       {"k":"br","x":2,"y":-130.8,"x2":2,"y2":-113.5}]},
      "layer": [
       {"transform": [{"filter": "datum.k === 'br'"}], "mark": {"type": "rule", "color": "#333", "strokeWidth": 1.1}, "encoding": {"x": {"field": "x", "type": "quantitative"}, "x2": {"field": "x2"}, "y": {"field": "y", "type": "quantitative"}, "y2": {"field": "y2"}}},
       {"transform": [{"filter": "datum.k === 'ttl'"}], "mark": {"type": "text", "align": "left", "baseline": "middle", "fontSize": 15}, "encoding": {"x": {"field": "x", "type": "quantitative"}, "y": {"field": "y", "type": "quantitative"}, "text": {"field": "t"}}},
       {"transform": [{"filter": "datum.k === 'p'"}], "mark": {"type": "text", "align": "left", "baseline": "middle", "fontSize": 10.5, "fontStyle": "italic"}, "encoding": {"x": {"field": "x", "type": "quantitative"}, "y": {"field": "y", "type": "quantitative"}, "text": {"value": "p"}}},
       {"transform": [{"filter": "datum.k === 'p'"}], "mark": {"type": "text", "align": "left", "baseline": "middle", "fontSize": 10.5, "dx": 8.8}, "encoding": {"x": {"field": "x", "type": "quantitative"}, "y": {"field": "y", "type": "quantitative"}, "text": {"field": "t"}}},
       {"transform": [{"filter": "datum.k === 'val'"}], "mark": {"type": "text", "align": "center", "baseline": "middle", "fontSize": 13.5}, "encoding": {"x": {"field": "x", "type": "quantitative"}, "y": {"field": "y", "type": "quantitative"}, "text": {"field": "t"}}},
       {"transform": [{"filter": "datum.k === 'lab'"}], "mark": {"type": "text", "align": "left", "baseline": "middle", "fontSize": 13}, "encoding": {"x": {"field": "x", "type": "quantitative"}, "y": {"field": "y", "type": "quantitative"}, "text": {"field": "t"}}}
      ]}
    ]},
    {"width": 94, "height": 182, "layer": [
     {"data": {"name": "si"}, "transform": [{"filter": "datum.p === 'pha'"}, {"bin": {"step": 1730}, "field": "v", "as": "vb"}, {"window": [{"op": "row_number", "as": "r"}], "groupby": ["g", "vb"], "sort": [{"field": "v"}]}, {"joinaggregate": [{"op": "count", "as": "n"}], "groupby": ["g", "vb"]}, {"calculate": "(datum.g === 'HC' ? 1 : 2) + (datum.r - (datum.n + 1) / 2) * 0.1", "as": "xp"}],
      "mark": {"type": "circle", "size": 15, "color": "#111", "opacity": 1},
      "encoding": {"x": {"field": "xp", "type": "quantitative", "scale": {"domain": [0, 2.9], "nice": false, "zero": false}, "axis": {"values": [1, 2], "tickCount": 20, "labelExpr": "datum.value === 1 ? 'HC' : 'PV'", "ticks": false, "labelFontSize": 15, "labelPadding": 6, "title": null, "labelFlush": false}},
                   "y": {"field": "v", "type": "quantitative", "scale": {"domain": [0, 90000], "nice": false, "zero": false}, "axis": {"title": "Stimulation index", "values": [0,10000,20000,30000,40000,50000,60000,70000,80000,90000], "tickCount": 20, "format": "d", "labelFontSize": 8.7, "labelFlush": false, "tickSize": 4, "labelPadding": 2, "titleFontSize": 13, "titlePadding": 8}}}},
     {"data": {"name": "si"}, "transform": [{"filter": "datum.p === 'pha'"}, {"aggregate": [{"op": "median", "field": "v", "as": "m"}], "groupby": ["g"]}, {"calculate": "datum.g === 'HC' ? 1 : 2", "as": "gx"}],
      "mark": {"type": "tick", "orient": "horizontal", "color": "#f0403c", "size": 26, "thickness": 1.5},
      "encoding": {"x": {"field": "gx", "type": "quantitative"}, "y": {"field": "m", "type": "quantitative"}}},
     {"data": {"name": "si"}, "transform": [{"filter": "datum.p === 'pha'"}, {"aggregate": [{"op": "mean", "field": "v", "as": "m"}], "groupby": ["g"]}, {"calculate": "datum.g === 'HC' ? 1 : 2", "as": "gx"}],
      "mark": {"type": "point", "shape": "M-1,0L1,0M0,-1L0,1", "filled": false, "color": "#f0403c", "strokeWidth": 1.8, "size": 100, "opacity": 1},
      "encoding": {"x": {"field": "gx", "type": "quantitative"}, "y": {"field": "m", "type": "quantitative"}}},
     {"data": {"values": [
       {"k":"ttl","x":-1.33,"y":113240,"t":"PHA"},
       {"k":"p","x":0.91,"y":115220,"t":"= 0.517"},
       {"k":"val","x":1,"y":-19290,"t":"100"},
       {"k":"val","x":2,"y":-19290,"t":"100"},
       {"k":"br","x":1,"y":103850,"x2":1,"y2":110770},
       {"k":"br","x":1,"y":110770,"x2":2,"y2":110770},
       {"k":"br","x":2,"y":110770,"x2":2,"y2":73190}]},
      "layer": [
       {"transform": [{"filter": "datum.k === 'br'"}], "mark": {"type": "rule", "color": "#333", "strokeWidth": 1.1}, "encoding": {"x": {"field": "x", "type": "quantitative"}, "x2": {"field": "x2"}, "y": {"field": "y", "type": "quantitative"}, "y2": {"field": "y2"}}},
       {"transform": [{"filter": "datum.k === 'ttl'"}], "mark": {"type": "text", "align": "left", "baseline": "middle", "fontSize": 15}, "encoding": {"x": {"field": "x", "type": "quantitative"}, "y": {"field": "y", "type": "quantitative"}, "text": {"field": "t"}}},
       {"transform": [{"filter": "datum.k === 'p'"}], "mark": {"type": "text", "align": "left", "baseline": "middle", "fontSize": 10.5, "fontStyle": "italic"}, "encoding": {"x": {"field": "x", "type": "quantitative"}, "y": {"field": "y", "type": "quantitative"}, "text": {"value": "p"}}},
       {"transform": [{"filter": "datum.k === 'p'"}], "mark": {"type": "text", "align": "left", "baseline": "middle", "fontSize": 10.5, "dx": 8.8}, "encoding": {"x": {"field": "x", "type": "quantitative"}, "y": {"field": "y", "type": "quantitative"}, "text": {"field": "t"}}},
       {"transform": [{"filter": "datum.k === 'val'"}], "mark": {"type": "text", "align": "center", "baseline": "middle", "fontSize": 13.5}, "encoding": {"x": {"field": "x", "type": "quantitative"}, "y": {"field": "y", "type": "quantitative"}, "text": {"field": "t"}}}
      ]}
    ]}
   ]}
  ]},
  {"spacing": 22, "hconcat": [
   {"spacing": 17, "hconcat": [
    {"width": 94, "height": 182, "layer": [
     {"data": {"name": "si"}, "transform": [{"filter": "datum.p === 'ni'"}, {"bin": {"step": 19}, "field": "v", "as": "vb"}, {"window": [{"op": "row_number", "as": "r"}], "groupby": ["g", "vb"], "sort": [{"field": "v"}]}, {"joinaggregate": [{"op": "count", "as": "n"}], "groupby": ["g", "vb"]}, {"calculate": "(datum.g === 'HC' ? 1 : 2) + (datum.r - (datum.n + 1) / 2) * 0.1", "as": "xp"}],
      "mark": {"type": "circle", "size": 15, "color": "#111", "opacity": 1},
      "encoding": {"x": {"field": "xp", "type": "quantitative", "scale": {"domain": [0, 2.9], "nice": false, "zero": false}, "axis": {"values": [1, 2], "tickCount": 20, "labelExpr": "datum.value === 1 ? 'HC' : 'PV'", "ticks": false, "labelFontSize": 15, "labelPadding": 6, "title": null, "labelFlush": false}},
                   "y": {"field": "v", "type": "quantitative", "scale": {"domain": [0, 1000], "nice": false, "zero": false}, "axis": {"title": "Stimulation index", "values": [0,100,200,300,400,500,600,700,800,900,1000], "tickCount": 20, "format": "d", "labelFontSize": 8.7, "labelFlush": false, "tickSize": 4, "labelPadding": 2, "titleFontSize": 13, "titlePadding": 8}}}},
     {"data": {"name": "si"}, "transform": [{"filter": "datum.p === 'ni'"}, {"aggregate": [{"op": "median", "field": "v", "as": "m"}], "groupby": ["g"]}, {"calculate": "datum.g === 'HC' ? 1 : 2", "as": "gx"}],
      "mark": {"type": "tick", "orient": "horizontal", "color": "#f0403c", "size": 26, "thickness": 1.5},
      "encoding": {"x": {"field": "gx", "type": "quantitative"}, "y": {"field": "m", "type": "quantitative"}}},
     {"data": {"name": "si"}, "transform": [{"filter": "datum.p === 'ni'"}, {"aggregate": [{"op": "mean", "field": "v", "as": "m"}], "groupby": ["g"]}, {"calculate": "datum.g === 'HC' ? 1 : 2", "as": "gx"}],
      "mark": {"type": "point", "shape": "M-1,0L1,0M0,-1L0,1", "filled": false, "color": "#f0403c", "strokeWidth": 1.8, "size": 100, "opacity": 1},
      "encoding": {"x": {"field": "gx", "type": "quantitative"}, "y": {"field": "m", "type": "quantitative"}}},
     {"data": {"values": [
       {"k":"ttl","x":-1.42,"y":1264,"t":"Ni"},
       {"k":"p","x":0.56,"y":1284,"t":"= 0.0121"},
       {"k":"p","x":0.72,"y":-401,"t":"= 0.261"},
       {"k":"val","x":1,"y":-214,"t":"21.1"},
       {"k":"val","x":2,"y":-214,"t":"38.2"},
       {"k":"lab","x":-2.43,"y":-175.8,"t":"Positive rate"},
       {"k":"lab","x":-2.43,"y":-280.2,"t":"(SI ≥180; %)"},
       {"k":"br","x":1,"y":741.7,"x2":1,"y2":1234.6},
       {"k":"br","x":1,"y":1234.6,"x2":2,"y2":1234.6},
       {"k":"br","x":2,"y":1234.6,"x2":2,"y2":1153.8},
       {"k":"br","x":1,"y":-324.2,"x2":1,"y2":-373.7},
       {"k":"br","x":1,"y":-373.7,"x2":2,"y2":-373.7},
       {"k":"br","x":2,"y":-373.7,"x2":2,"y2":-324.2}]},
      "layer": [
       {"transform": [{"filter": "datum.k === 'br'"}], "mark": {"type": "rule", "color": "#333", "strokeWidth": 1.1}, "encoding": {"x": {"field": "x", "type": "quantitative"}, "x2": {"field": "x2"}, "y": {"field": "y", "type": "quantitative"}, "y2": {"field": "y2"}}},
       {"transform": [{"filter": "datum.k === 'ttl'"}], "mark": {"type": "text", "align": "left", "baseline": "middle", "fontSize": 15}, "encoding": {"x": {"field": "x", "type": "quantitative"}, "y": {"field": "y", "type": "quantitative"}, "text": {"field": "t"}}},
       {"transform": [{"filter": "datum.k === 'p'"}], "mark": {"type": "text", "align": "left", "baseline": "middle", "fontSize": 10.5, "fontStyle": "italic"}, "encoding": {"x": {"field": "x", "type": "quantitative"}, "y": {"field": "y", "type": "quantitative"}, "text": {"value": "p"}}},
       {"transform": [{"filter": "datum.k === 'p'"}], "mark": {"type": "text", "align": "left", "baseline": "middle", "fontSize": 10.5, "dx": 8.8}, "encoding": {"x": {"field": "x", "type": "quantitative"}, "y": {"field": "y", "type": "quantitative"}, "text": {"field": "t"}}},
       {"transform": [{"filter": "datum.k === 'val'"}], "mark": {"type": "text", "align": "center", "baseline": "middle", "fontSize": 13.5}, "encoding": {"x": {"field": "x", "type": "quantitative"}, "y": {"field": "y", "type": "quantitative"}, "text": {"field": "t"}}},
       {"transform": [{"filter": "datum.k === 'lab'"}], "mark": {"type": "text", "align": "left", "baseline": "middle", "fontSize": 13}, "encoding": {"x": {"field": "x", "type": "quantitative"}, "y": {"field": "y", "type": "quantitative"}, "text": {"field": "t"}}}
      ]}
    ]},
    {"width": 94, "height": 182, "layer": [
     {"data": {"name": "si"}, "transform": [{"filter": "datum.p === 'phn'"}, {"bin": {"step": 1730}, "field": "v", "as": "vb"}, {"window": [{"op": "row_number", "as": "r"}], "groupby": ["g", "vb"], "sort": [{"field": "v"}]}, {"joinaggregate": [{"op": "count", "as": "n"}], "groupby": ["g", "vb"]}, {"calculate": "(datum.g === 'HC' ? 1 : 2) + (datum.r - (datum.n + 1) / 2) * 0.1", "as": "xp"}],
      "mark": {"type": "circle", "size": 15, "color": "#111", "opacity": 1},
      "encoding": {"x": {"field": "xp", "type": "quantitative", "scale": {"domain": [0, 2.9], "nice": false, "zero": false}, "axis": {"values": [1, 2], "tickCount": 20, "labelExpr": "datum.value === 1 ? 'HC' : 'PV'", "ticks": false, "labelFontSize": 15, "labelPadding": 6, "title": null, "labelFlush": false}},
                   "y": {"field": "v", "type": "quantitative", "scale": {"domain": [0, 90000], "nice": false, "zero": false}, "axis": {"title": "Stimulation index", "values": [0,10000,20000,30000,40000,50000,60000,70000,80000,90000], "tickCount": 20, "format": "d", "labelFontSize": 8.7, "labelFlush": false, "tickSize": 4, "labelPadding": 2, "titleFontSize": 13, "titlePadding": 8}}}},
     {"data": {"name": "si"}, "transform": [{"filter": "datum.p === 'phn'"}, {"aggregate": [{"op": "median", "field": "v", "as": "m"}], "groupby": ["g"]}, {"calculate": "datum.g === 'HC' ? 1 : 2", "as": "gx"}],
      "mark": {"type": "tick", "orient": "horizontal", "color": "#f0403c", "size": 26, "thickness": 1.5},
      "encoding": {"x": {"field": "gx", "type": "quantitative"}, "y": {"field": "m", "type": "quantitative"}}},
     {"data": {"name": "si"}, "transform": [{"filter": "datum.p === 'phn'"}, {"aggregate": [{"op": "mean", "field": "v", "as": "m"}], "groupby": ["g"]}, {"calculate": "datum.g === 'HC' ? 1 : 2", "as": "gx"}],
      "mark": {"type": "point", "shape": "M-1,0L1,0M0,-1L0,1", "filled": false, "color": "#f0403c", "strokeWidth": 1.8, "size": 100, "opacity": 1},
      "encoding": {"x": {"field": "gx", "type": "quantitative"}, "y": {"field": "m", "type": "quantitative"}}},
     {"data": {"values": [
       {"k":"ttl","x":-1.64,"y":114230,"t":"PHA"},
       {"k":"p","x":0.67,"y":115570,"t":"= 0.463"},
       {"k":"val","x":1,"y":-19290,"t":"100"},
       {"k":"val","x":2,"y":-19290,"t":"100"},
       {"k":"br","x":1,"y":103850,"x2":1,"y2":111115},
       {"k":"br","x":1,"y":111115,"x2":2,"y2":111115},
       {"k":"br","x":2,"y":111115,"x2":2,"y2":74180}]},
      "layer": [
       {"transform": [{"filter": "datum.k === 'br'"}], "mark": {"type": "rule", "color": "#333", "strokeWidth": 1.1}, "encoding": {"x": {"field": "x", "type": "quantitative"}, "x2": {"field": "x2"}, "y": {"field": "y", "type": "quantitative"}, "y2": {"field": "y2"}}},
       {"transform": [{"filter": "datum.k === 'ttl'"}], "mark": {"type": "text", "align": "left", "baseline": "middle", "fontSize": 15}, "encoding": {"x": {"field": "x", "type": "quantitative"}, "y": {"field": "y", "type": "quantitative"}, "text": {"field": "t"}}},
       {"transform": [{"filter": "datum.k === 'p'"}], "mark": {"type": "text", "align": "left", "baseline": "middle", "fontSize": 10.5, "fontStyle": "italic"}, "encoding": {"x": {"field": "x", "type": "quantitative"}, "y": {"field": "y", "type": "quantitative"}, "text": {"value": "p"}}},
       {"transform": [{"filter": "datum.k === 'p'"}], "mark": {"type": "text", "align": "left", "baseline": "middle", "fontSize": 10.5, "dx": 8.8}, "encoding": {"x": {"field": "x", "type": "quantitative"}, "y": {"field": "y", "type": "quantitative"}, "text": {"field": "t"}}},
       {"transform": [{"filter": "datum.k === 'val'"}], "mark": {"type": "text", "align": "center", "baseline": "middle", "fontSize": 13.5}, "encoding": {"x": {"field": "x", "type": "quantitative"}, "y": {"field": "y", "type": "quantitative"}, "text": {"field": "t"}}}
      ]}
    ]}
   ]},
   {"spacing": 15, "hconcat": [
    {"width": 94, "height": 182, "layer": [
     {"data": {"name": "si"}, "transform": [{"filter": "datum.p === 'pd'"}, {"bin": {"step": 9.6}, "field": "v", "as": "vb"}, {"window": [{"op": "row_number", "as": "r"}], "groupby": ["g", "vb"], "sort": [{"field": "v"}]}, {"joinaggregate": [{"op": "count", "as": "n"}], "groupby": ["g", "vb"]}, {"calculate": "(datum.g === 'HC' ? 1 : 2) + (datum.r - (datum.n + 1) / 2) * 0.1", "as": "xp"}],
      "mark": {"type": "circle", "size": 15, "color": "#111", "opacity": 1},
      "encoding": {"x": {"field": "xp", "type": "quantitative", "scale": {"domain": [0, 2.9], "nice": false, "zero": false}, "axis": {"values": [1, 2], "tickCount": 20, "labelExpr": "datum.value === 1 ? 'HC' : 'PV'", "ticks": false, "labelFontSize": 15, "labelPadding": 6, "title": null, "labelFlush": false}},
                   "y": {"field": "v", "type": "quantitative", "scale": {"domain": [0, 500], "nice": false, "zero": false}, "axis": {"title": "Stimulation index", "values": [0,100,200,300,400,500], "tickCount": 20, "format": "d", "labelFontSize": 8.7, "labelFlush": false, "tickSize": 4, "labelPadding": 2, "titleFontSize": 13, "titlePadding": 10}}}},
     {"data": {"name": "si"}, "transform": [{"filter": "datum.p === 'pd'"}, {"aggregate": [{"op": "median", "field": "v", "as": "m"}], "groupby": ["g"]}, {"calculate": "datum.g === 'HC' ? 1 : 2", "as": "gx"}],
      "mark": {"type": "tick", "orient": "horizontal", "color": "#f0403c", "size": 26, "thickness": 1.5},
      "encoding": {"x": {"field": "gx", "type": "quantitative"}, "y": {"field": "m", "type": "quantitative"}}},
     {"data": {"name": "si"}, "transform": [{"filter": "datum.p === 'pd'"}, {"aggregate": [{"op": "mean", "field": "v", "as": "m"}], "groupby": ["g"]}, {"calculate": "datum.g === 'HC' ? 1 : 2", "as": "gx"}],
      "mark": {"type": "point", "shape": "M-1,0L1,0M0,-1L0,1", "filled": false, "color": "#f0403c", "strokeWidth": 1.8, "size": 100, "opacity": 1},
      "encoding": {"x": {"field": "gx", "type": "quantitative"}, "y": {"field": "m", "type": "quantitative"}}},
     {"data": {"values": [
       {"k":"ttl","x":-1.36,"y":634.6,"t":"Pd"},
       {"k":"p","x":0.65,"y":642,"t":"= 0.122"},
       {"k":"p","x":0.88,"y":-200.5,"t":"= 0.125"},
       {"k":"val","x":1,"y":-107,"t":"9.52"},
       {"k":"val","x":2,"y":-107,"t":"29.4"},
       {"k":"lab","x":-2.43,"y":-87.9,"t":"Positive rate"},
       {"k":"lab","x":-2.43,"y":-140.1,"t":"(SI ≥180; %)"},
       {"k":"br","x":1,"y":478,"x2":1,"y2":617.3},
       {"k":"br","x":1,"y":617.3,"x2":2,"y2":617.3},
       {"k":"br","x":2,"y":617.3,"x2":2,"y2":601.6},
       {"k":"br","x":1,"y":-162.1,"x2":1,"y2":-186.8},
       {"k":"br","x":1,"y":-186.8,"x2":2,"y2":-186.8},
       {"k":"br","x":2,"y":-186.8,"x2":2,"y2":-162.1}]},
      "layer": [
       {"transform": [{"filter": "datum.k === 'br'"}], "mark": {"type": "rule", "color": "#333", "strokeWidth": 1.1}, "encoding": {"x": {"field": "x", "type": "quantitative"}, "x2": {"field": "x2"}, "y": {"field": "y", "type": "quantitative"}, "y2": {"field": "y2"}}},
       {"transform": [{"filter": "datum.k === 'ttl'"}], "mark": {"type": "text", "align": "left", "baseline": "middle", "fontSize": 15}, "encoding": {"x": {"field": "x", "type": "quantitative"}, "y": {"field": "y", "type": "quantitative"}, "text": {"field": "t"}}},
       {"transform": [{"filter": "datum.k === 'p'"}], "mark": {"type": "text", "align": "left", "baseline": "middle", "fontSize": 10.5, "fontStyle": "italic"}, "encoding": {"x": {"field": "x", "type": "quantitative"}, "y": {"field": "y", "type": "quantitative"}, "text": {"value": "p"}}},
       {"transform": [{"filter": "datum.k === 'p'"}], "mark": {"type": "text", "align": "left", "baseline": "middle", "fontSize": 10.5, "dx": 8.8}, "encoding": {"x": {"field": "x", "type": "quantitative"}, "y": {"field": "y", "type": "quantitative"}, "text": {"field": "t"}}},
       {"transform": [{"filter": "datum.k === 'val'"}], "mark": {"type": "text", "align": "center", "baseline": "middle", "fontSize": 13.5}, "encoding": {"x": {"field": "x", "type": "quantitative"}, "y": {"field": "y", "type": "quantitative"}, "text": {"field": "t"}}},
       {"transform": [{"filter": "datum.k === 'lab'"}], "mark": {"type": "text", "align": "left", "baseline": "middle", "fontSize": 13}, "encoding": {"x": {"field": "x", "type": "quantitative"}, "y": {"field": "y", "type": "quantitative"}, "text": {"field": "t"}}}
      ]}
    ]},
    {"width": 94, "height": 182, "layer": [
     {"data": {"name": "si"}, "transform": [{"filter": "datum.p === 'php'"}, {"bin": {"step": 1730}, "field": "v", "as": "vb"}, {"window": [{"op": "row_number", "as": "r"}], "groupby": ["g", "vb"], "sort": [{"field": "v"}]}, {"joinaggregate": [{"op": "count", "as": "n"}], "groupby": ["g", "vb"]}, {"calculate": "(datum.g === 'HC' ? 1 : 2) + (datum.r - (datum.n + 1) / 2) * 0.1", "as": "xp"}],
      "mark": {"type": "circle", "size": 15, "color": "#111", "opacity": 1},
      "encoding": {"x": {"field": "xp", "type": "quantitative", "scale": {"domain": [0, 2.9], "nice": false, "zero": false}, "axis": {"values": [1, 2], "tickCount": 20, "labelExpr": "datum.value === 1 ? 'HC' : 'PV'", "ticks": false, "labelFontSize": 15, "labelPadding": 6, "title": null, "labelFlush": false}},
                   "y": {"field": "v", "type": "quantitative", "scale": {"domain": [0, 90000], "nice": false, "zero": false}, "axis": {"title": "Stimulation index", "values": [0,10000,20000,30000,40000,50000,60000,70000,80000,90000], "tickCount": 20, "format": "d", "labelFontSize": 8.7, "labelFlush": false, "tickSize": 4, "labelPadding": 2, "titleFontSize": 13, "titlePadding": 8}}}},
     {"data": {"name": "si"}, "transform": [{"filter": "datum.p === 'php'"}, {"aggregate": [{"op": "median", "field": "v", "as": "m"}], "groupby": ["g"]}, {"calculate": "datum.g === 'HC' ? 1 : 2", "as": "gx"}],
      "mark": {"type": "tick", "orient": "horizontal", "color": "#f0403c", "size": 26, "thickness": 1.5},
      "encoding": {"x": {"field": "gx", "type": "quantitative"}, "y": {"field": "m", "type": "quantitative"}}},
     {"data": {"name": "si"}, "transform": [{"filter": "datum.p === 'php'"}, {"aggregate": [{"op": "mean", "field": "v", "as": "m"}], "groupby": ["g"]}, {"calculate": "datum.g === 'HC' ? 1 : 2", "as": "gx"}],
      "mark": {"type": "point", "shape": "M-1,0L1,0M0,-1L0,1", "filled": false, "color": "#f0403c", "strokeWidth": 1.8, "size": 100, "opacity": 1},
      "encoding": {"x": {"field": "gx", "type": "quantitative"}, "y": {"field": "m", "type": "quantitative"}}},
     {"data": {"values": [
       {"k":"ttl","x":-1.51,"y":114230,"t":"PHA"},
       {"k":"p","x":0.67,"y":115570,"t":"= 0.734"},
       {"k":"val","x":1,"y":-19290,"t":"100"},
       {"k":"val","x":2,"y":-19290,"t":"100"},
       {"k":"br","x":1,"y":103850,"x2":1,"y2":111115},
       {"k":"br","x":1,"y":111115,"x2":2,"y2":111115},
       {"k":"br","x":2,"y":111115,"x2":2,"y2":81590}]},
      "layer": [
       {"transform": [{"filter": "datum.k === 'br'"}], "mark": {"type": "rule", "color": "#333", "strokeWidth": 1.1}, "encoding": {"x": {"field": "x", "type": "quantitative"}, "x2": {"field": "x2"}, "y": {"field": "y", "type": "quantitative"}, "y2": {"field": "y2"}}},
       {"transform": [{"filter": "datum.k === 'ttl'"}], "mark": {"type": "text", "align": "left", "baseline": "middle", "fontSize": 15}, "encoding": {"x": {"field": "x", "type": "quantitative"}, "y": {"field": "y", "type": "quantitative"}, "text": {"field": "t"}}},
       {"transform": [{"filter": "datum.k === 'p'"}], "mark": {"type": "text", "align": "left", "baseline": "middle", "fontSize": 10.5, "fontStyle": "italic"}, "encoding": {"x": {"field": "x", "type": "quantitative"}, "y": {"field": "y", "type": "quantitative"}, "text": {"value": "p"}}},
       {"transform": [{"filter": "datum.k === 'p'"}], "mark": {"type": "text", "align": "left", "baseline": "middle", "fontSize": 10.5, "dx": 8.8}, "encoding": {"x": {"field": "x", "type": "quantitative"}, "y": {"field": "y", "type": "quantitative"}, "text": {"field": "t"}}},
       {"transform": [{"filter": "datum.k === 'val'"}], "mark": {"type": "text", "align": "center", "baseline": "middle", "fontSize": 13.5}, "encoding": {"x": {"field": "x", "type": "quantitative"}, "y": {"field": "y", "type": "quantitative"}, "text": {"field": "t"}}}
      ]}
    ]}
   ]}
  ]}
 ]
}
],
"columns": 1,
"align": "none",
"spacing": 18
}
